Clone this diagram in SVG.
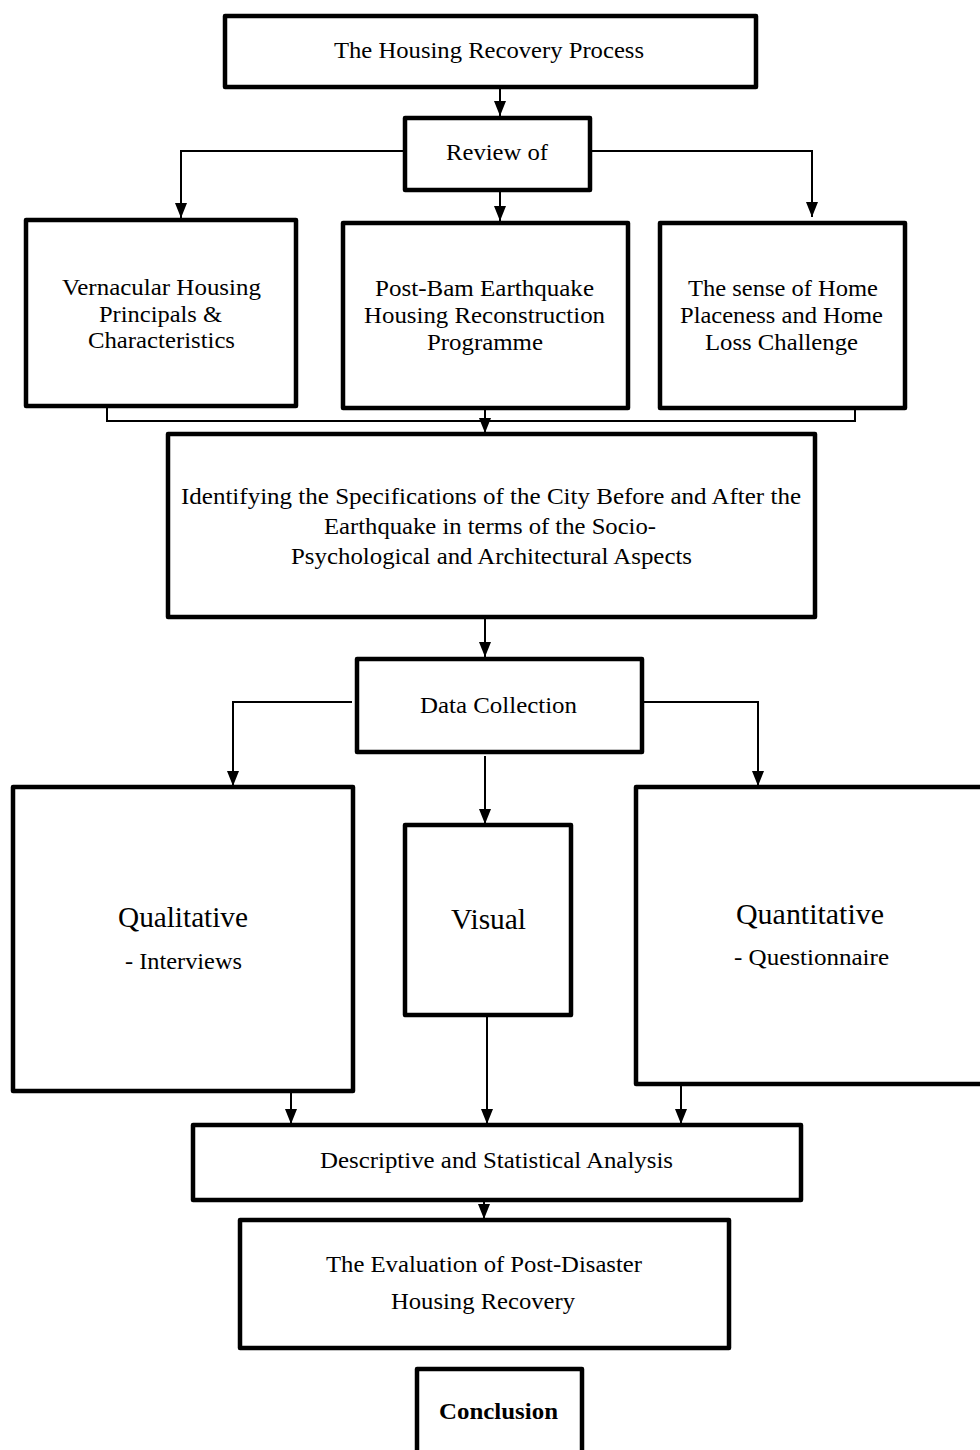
<svg xmlns="http://www.w3.org/2000/svg" width="980" height="1450" viewBox="0 0 980 1450">
<style>
.box{fill:#fff;stroke:#000;stroke-width:4.5;stroke-linejoin:round}
.t{font-family:"Liberation Serif","Times New Roman",serif;font-size:24px;fill:#000}
.big{font-size:30px}
.b{font-weight:bold}
.c{fill:none;stroke:#000;stroke-width:2}
</style>
<defs>
<marker id="ah" viewBox="0 0 15 12" refX="15" refY="6" markerWidth="15" markerHeight="12" markerUnits="userSpaceOnUse" orient="auto">
<path d="M0,0 L15,6 L0,12 z" fill="#000"/>
</marker>
</defs>
<rect width="980" height="1450" fill="#fff"/>
<g id="connectors">
<line class="c" x1="500" y1="89" x2="500" y2="116" marker-end="url(#ah)"/>
<polyline class="c" points="403,151 181,151 181,218" marker-end="url(#ah)"/>
<polyline class="c" points="592,151 812,151 812,217" marker-end="url(#ah)"/>
<line class="c" x1="500" y1="192" x2="500" y2="221" marker-end="url(#ah)"/>
<polyline class="c" points="107,408 107,421 855,421 855,410"/>
<line class="c" x1="485" y1="410" x2="485" y2="433" marker-end="url(#ah)"/>
<line class="c" x1="485" y1="619" x2="485" y2="657" marker-end="url(#ah)"/>
<polyline class="c" points="352,702 233,702 233,786" marker-end="url(#ah)"/>
<polyline class="c" points="644,702 758,702 758,786" marker-end="url(#ah)"/>
<line class="c" x1="485" y1="756" x2="485" y2="824" marker-end="url(#ah)"/>
<line class="c" x1="291" y1="1093" x2="291" y2="1124" marker-end="url(#ah)"/>
<line class="c" x1="487" y1="1017" x2="487" y2="1124" marker-end="url(#ah)"/>
<line class="c" x1="681" y1="1086" x2="681" y2="1124" marker-end="url(#ah)"/>
<line class="c" x1="484" y1="1202" x2="484" y2="1219" marker-end="url(#ah)"/>
</g>
<g id="n-process">
<rect class="box" x="225" y="16" width="531" height="71"/>
<text class="t" x="334" y="58" textLength="310" lengthAdjust="spacingAndGlyphs">The Housing Recovery Process</text>
</g>
<g id="n-review">
<rect class="box" x="405" y="118" width="185" height="72"/>
<text class="t" x="446" y="160" textLength="102" lengthAdjust="spacingAndGlyphs">Review of</text>
</g>
<g id="n-vernacular">
<rect class="box" x="26" y="220" width="270" height="186"/>
<text class="t" x="62" y="295" textLength="199" lengthAdjust="spacingAndGlyphs">Vernacular Housing</text>
<text class="t" x="99" y="322" textLength="123" lengthAdjust="spacingAndGlyphs">Principals &amp;</text>
<text class="t" x="88" y="348" textLength="147" lengthAdjust="spacingAndGlyphs">Characteristics</text>
</g>
<g id="n-postbam">
<rect class="box" x="343" y="223" width="285" height="185"/>
<text class="t" x="375" y="296" textLength="219" lengthAdjust="spacingAndGlyphs">Post-Bam Earthquake</text>
<text class="t" x="364" y="323" textLength="241" lengthAdjust="spacingAndGlyphs">Housing Reconstruction</text>
<text class="t" x="427" y="350" textLength="116" lengthAdjust="spacingAndGlyphs">Programme</text>
</g>
<g id="n-sense">
<rect class="box" x="660" y="223" width="245" height="185"/>
<text class="t" x="688" y="296" textLength="190" lengthAdjust="spacingAndGlyphs">The sense of Home</text>
<text class="t" x="680" y="323" textLength="203" lengthAdjust="spacingAndGlyphs">Placeness and Home</text>
<text class="t" x="705" y="350" textLength="153" lengthAdjust="spacingAndGlyphs">Loss Challenge</text>
</g>
<g id="n-identifying">
<rect class="box" x="168" y="434" width="647" height="183"/>
<text class="t" x="181" y="504" textLength="620" lengthAdjust="spacingAndGlyphs">Identifying the Specifications of  the City Before and After the</text>
<text class="t" x="324" y="534" textLength="332" lengthAdjust="spacingAndGlyphs">Earthquake in terms  of the Socio-</text>
<text class="t" x="291" y="564" textLength="401" lengthAdjust="spacingAndGlyphs">Psychological and Architectural Aspects</text>
</g>
<g id="n-data">
<rect class="box" x="357" y="659" width="285" height="93"/>
<text class="t" x="420" y="713" textLength="157" lengthAdjust="spacingAndGlyphs">Data Collection</text>
</g>
<g id="n-qualitative">
<rect class="box" x="13" y="787" width="340" height="304"/>
<text class="t big" x="118" y="927" textLength="130" lengthAdjust="spacingAndGlyphs">Qualitative</text>
<text class="t" x="125" y="969" textLength="117" lengthAdjust="spacingAndGlyphs">- Interviews</text>
</g>
<g id="n-visual">
<rect class="box" x="405" y="825" width="166" height="190"/>
<text class="t big" x="451" y="929" textLength="75" lengthAdjust="spacingAndGlyphs">Visual</text>
</g>
<g id="n-quantitative">
<rect class="box" x="636" y="787" width="360" height="297"/>
<text class="t big" x="736" y="924" textLength="148" lengthAdjust="spacingAndGlyphs">Quantitative</text>
<text class="t" x="734" y="965" textLength="155" lengthAdjust="spacingAndGlyphs">- Questionnaire</text>
</g>
<g id="n-descriptive">
<rect class="box" x="193" y="1125" width="608" height="75"/>
<text class="t" x="320" y="1168" textLength="353" lengthAdjust="spacingAndGlyphs">Descriptive and Statistical Analysis</text>
</g>
<g id="n-evaluation">
<rect class="box" x="240" y="1220" width="489" height="128"/>
<text class="t" x="326" y="1272" textLength="316" lengthAdjust="spacingAndGlyphs">The Evaluation of Post-Disaster</text>
<text class="t" x="391" y="1309" textLength="184" lengthAdjust="spacingAndGlyphs">Housing Recovery</text>
</g>
<g id="n-conclusion">
<rect class="box" x="417" y="1369" width="165" height="100"/>
<text class="t b" x="439" y="1419" textLength="119" lengthAdjust="spacingAndGlyphs">Conclusion</text>
</g>
</svg>
